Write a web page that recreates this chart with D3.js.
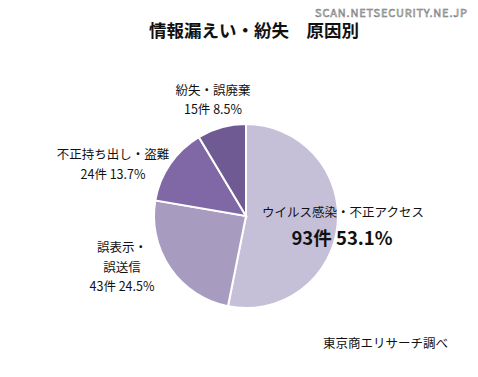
<!DOCTYPE html>
<html>
<head>
<meta charset="utf-8">
<script src="https://cdn.jsdelivr.net/npm/d3@7"></script>
<style>
  body { margin: 0; background: #fff; }
  text { font-family: "Noto Sans CJK JP", "Noto Sans", sans-serif; fill: #111; }
</style>
</head>
<body>
<div id="chart"></div>
<script>
var w = 478;
var h = 377;

// data
var categories = ['ウイルス感染・不正アクセス', '誤表示・誤送信', '不正持ち出し・盗難', '紛失・誤廃棄'];
var counts = [93, 43, 24, 15];
var percents = ['53.1%', '24.5%', '13.7%', '8.5%'];
var colors = ['#c6bfd8', '#a89bc0', '#8067a6', '#6f5a94'];

var cx = 246, cy = 216, r = 92;

var svg = d3.select('#chart')
  .append('svg')
  .attr('width', w)
  .attr('height', h);

var pie = d3.pie().sort(null).value(d => d);
var arc = d3.arc().innerRadius(0).outerRadius(r);

var g = svg.append('g').attr('transform', 'translate(' + cx + ',' + cy + ')');

g.selectAll('path')
  .data(pie(counts))
  .enter()
  .append('path')
  .attr('d', arc)
  .attr('fill', (d, i) => colors[i])
  .attr('stroke', '#fff')
  .attr('stroke-width', 2);

// title
svg.append('text')
  .attr('x', 254).attr('y', 37)
  .attr('text-anchor', 'middle')
  .attr('font-size', 17.5)
  .attr('font-weight', 'bold')
  .text('情報漏えい・紛失　原因別');

// watermark
svg.append('text')
  .attr('x', 467).attr('y', 17)
  .attr('text-anchor', 'end')
  .attr('font-size', 11)
  .attr('font-family', 'DejaVu Sans')
  .attr('textLength', 152)
  .style('fill', '#fff')
  .style('stroke', '#777')
  .style('stroke-width', 0.6)
  .text('SCAN.NETSECURITY.NE.JP');

// slice labels: name lines then count line
var labels = [
  {lines: [categories[0]], x: 343, y: 217, next: 245},
  {lines: ['誤表示・', '誤送信'], x: 122, y: 252, next: 291},
  {lines: [categories[2]], x: 113, y: 159, next: 179},
  {lines: [categories[3]], x: 213, y: 95, next: 114}
];

labels.forEach(function(l, i) {
  var t = svg.append('g');
  l.lines.forEach(function(s, j) {
    t.append('text')
      .attr('x', l.x).attr('y', l.y + j * 19.5)
      .attr('text-anchor', 'middle')
      .attr('font-size', 12.5)
      .text(s);
  });
  t.append('text')
    .attr('x', i === 0 ? 342 : l.x).attr('y', l.next)
    .attr('text-anchor', 'middle')
    .attr('font-size', i === 0 ? 18.5 : 12.5)
    .attr('font-weight', i === 0 ? 'bold' : 'normal')
    .text(counts[i] + '件 ' + percents[i]);
});

svg.append('text')
  .attr('x', 323).attr('y', 348)
  .attr('font-size', 12.5)
  .text('東京商エリサーチ調べ');
</script>
</body>
</html>
